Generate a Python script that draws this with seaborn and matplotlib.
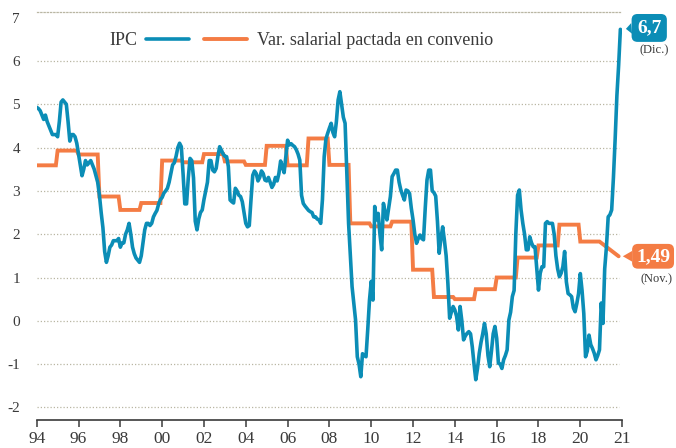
import numpy as np
import pandas as pd
import matplotlib.pyplot as plt
import seaborn as sns

# IPC, variación interanual (%), mensual ene-1994 .. dic-2021
ipc = [
    4.93, 4.90, 4.85, 4.75, 4.65, 4.75, 4.60, 4.50, 4.40, 4.30, 4.30, 4.30,  # 1994
    4.25, 4.60, 5.05, 5.10, 5.05, 5.00, 4.60, 4.15, 4.30, 4.30, 4.25, 4.10,  # 1995
    3.85, 3.60, 3.35, 3.50, 3.70, 3.60, 3.65, 3.70, 3.60, 3.50, 3.35, 3.20,  # 1996
    2.90, 2.50, 2.15, 1.60, 1.35, 1.50, 1.70, 1.75, 1.85, 1.85, 1.85, 1.90,  # 1997
    1.70, 1.80, 1.80, 2.00, 2.10, 2.25, 2.00, 1.70, 1.55, 1.45, 1.40, 1.35,  # 1998
    1.50, 1.80, 2.10, 2.25, 2.25, 2.20, 2.25, 2.40, 2.48, 2.55, 2.70, 2.80,  # 1999
    2.85, 2.95, 3.00, 3.06, 3.20, 3.40, 3.60, 3.65, 3.80, 4.00, 4.10, 4.02,  # 2000
    3.40, 2.70, 2.70, 3.30, 3.75, 3.70, 3.30, 2.30, 2.10, 2.35, 2.50, 2.56,  # 2001
    2.80, 3.00, 3.20, 3.70, 3.70, 3.48, 3.44, 3.52, 3.80, 4.02, 3.94, 3.85,  # 2002
    3.80, 3.79, 3.56, 2.79, 2.75, 2.72, 3.06, 3.00, 2.90, 2.87, 2.75, 2.50,  # 2003
    2.25, 2.17, 2.20, 2.80, 3.36, 3.46, 3.40, 3.23, 3.31, 3.46, 3.40, 3.25,  # 2004
    3.23, 3.31, 3.20, 3.08, 3.15, 3.31, 3.23, 3.40, 3.69, 3.55, 3.42, 3.80,  # 2005
    4.17, 4.06, 4.09, 4.05, 4.02, 3.95, 3.85, 3.71, 2.90, 2.71, 2.65, 2.60,  # 2006
    2.55, 2.52, 2.50, 2.40, 2.40, 2.35, 2.33, 2.25, 2.80, 3.79, 4.20, 4.33,  # 2007
    4.45, 4.56, 4.35, 4.25, 4.60, 5.10, 5.29, 5.00, 4.70, 4.56, 3.40, 2.25,  # 2008
    1.50, 0.79, 0.40, 0.02, -0.83, -1.00, -1.29, -0.76, -0.80, -0.83, -0.20, 0.48,  # 2009
    0.91, 0.48, 2.64, 2.33, 2.48, 2.00, 1.64, 2.71, 2.50, 2.33, 2.60, 2.87,  # 2010
    3.33, 3.40, 3.48, 3.48, 3.20, 3.02, 2.90, 2.79, 3.02, 3.00, 2.94, 2.60,  # 2011
    2.33, 2.00, 1.79, 1.90, 1.98, 1.90, 1.87, 2.60, 3.25, 3.48, 3.48, 3.00,  # 2012
    2.96, 2.88, 2.30, 1.56, 1.90, 2.17, 1.86, 1.50, 0.86, 0.06, 0.20, 0.33,  # 2013
    0.25, 0.10, -0.21, 0.33, 0.00, -0.44, -0.35, -0.29, -0.25, -0.30, -0.60, -1.00,  # 2014
    -1.36, -1.10, -0.75, -0.50, -0.30, -0.06, -0.30, -0.80, -1.06, -0.70, -0.30, -0.13,  # 2015
    -0.40, -0.98, -1.00, -1.10, -0.90, -0.80, -0.67, 0.02, 0.20, 0.56, 0.70, 2.02,  # 2016
    2.90, 3.02, 2.56, 2.25, 2.00, 1.64, 1.64, 1.94, 1.80, 1.71, 1.71, 1.20,  # 2017
    0.71, 1.10, 1.25, 1.25, 2.25, 2.29, 2.25, 2.25, 2.25, 2.00, 1.50, 1.20,  # 2018
    1.02, 1.10, 1.25, 1.60, 0.90, 0.63, 0.60, 0.56, 0.30, 0.21, 0.40, 0.63,  # 2019
    1.09, 0.70, 0.17, -0.83, -0.70, -0.33, -0.55, -0.64, -0.75, -0.90, -0.80, -0.67,  # 2020
    0.41, -0.06, 1.20, 1.71, 2.40, 2.45, 2.56, 3.30, 4.20, 5.20, 5.90, 6.73,  # 2021
]

# Variación salarial pactada en convenio (%), 1994..2020, y dato nov-2021
salario_anual = [3.59, 3.93, 3.84, 2.87, 2.56, 2.72, 3.70, 3.66, 3.85, 3.68,
                 3.60, 4.04, 3.59, 4.21, 3.60, 2.25, 2.18, 2.29, 1.18, 0.55,
                 0.50, 0.73, 1.00, 1.46, 1.74, 2.22, 1.83]
salario_nov21 = 1.49

y_ticks = [-2, -1, 0, 1, 2, 3, 4, 5, 6, 7]
x_ticks = [1994, 1996, 1998, 2000, 2002, 2004, 2006, 2008, 2010, 2012,
           2014, 2016, 2018, 2020, 2022]
x_labels = ['94', '96', '98', '00', '02', '04', '06', '08', '10', '12',
            '14', '16', '18', '20', '21']

meses = pd.date_range('1994-01-01', '2021-12-01', freq='MS')
df_ipc = pd.DataFrame({'x': meses.year + (meses.month - 1) / 12, 'valor': ipc})

meses_sal = pd.date_range('1994-01-01', '2020-12-01', freq='MS')
df_sal = pd.DataFrame({'x': meses_sal.year + (meses_sal.month - 1) / 12,
                       'valor': np.repeat(salario_anual, 12)})
df_sal = pd.concat([df_sal, pd.DataFrame({'x': [2021 + 10 / 12], 'valor': [salario_nov21]})],
                   ignore_index=True)

AZUL = '#0b8db6'
NARANJA = '#f47c44'
GRIS = '#3a3a3a'
REJILLA = '#b9b6a3'

sns.set_style('white')
plt.rcParams['font.family'] = ['Liberation Serif', 'DejaVu Serif']

fig = plt.figure(figsize=(6.76, 4.48), dpi=100)
ax = fig.add_axes([0.0543, 0.0625, 0.866, 0.9107])

sns.lineplot(data=df_sal, x='x', y='valor', ax=ax, color=NARANJA, lw=2.8,
             solid_joinstyle='miter', zorder=3)
sns.lineplot(data=df_ipc, x='x', y='valor', ax=ax, color=AZUL, lw=2.6, zorder=4)
h_sal, h_ipc = ax.lines[0], ax.lines[1]

ax.set_xlim(1994, 2022)
ax.set_ylim(-2.29, 7.13)
ax.set_xlabel('')
ax.set_ylabel('')

for v in y_ticks[:-1]:
    ax.axhline(v, xmin=0, xmax=0.995, color=REJILLA, lw=0.9, ls=(0, (1, 1.6)), zorder=1)

for s in ['left', 'right']:
    ax.spines[s].set_visible(False)
ax.spines['top'].set_color(REJILLA)
ax.spines['top'].set_linestyle((0, (1, 1.6)))
ax.spines['top'].set_linewidth(0.9)
ax.spines['bottom'].set_color(GRIS)
ax.spines['bottom'].set_linewidth(1.2)

ax.set_yticks(y_ticks)
ax.set_yticklabels([str(t) for t in y_ticks])
ax.set_xticks(x_ticks)
ax.set_xticklabels(x_labels)
ax.tick_params(axis='y', length=0, pad=12, labelsize=11, labelcolor=GRIS)
ax.tick_params(axis='x', length=5, width=1.1, color=GRIS, pad=3, labelsize=12.5,
               labelcolor=GRIS, direction='out', bottom=True)

# leyenda: "IPC ───"  y  "─── Var. salarial ..."
leg1 = ax.legend([h_ipc], ['IPC'], loc='center left', bbox_to_anchor=(0.125, 0.93),
                 frameon=False, markerfirst=False, handlelength=2.4, handletextpad=0.45,
                 borderpad=0, borderaxespad=0, fontsize=13, labelcolor=GRIS)
ax.add_artist(leg1)
ax.legend([h_sal], ['Var. salarial pactada en convenio'], loc='center left',
          bbox_to_anchor=(0.286, 0.93), frameon=False, handlelength=2.4,
          handletextpad=0.55, borderpad=0, borderaxespad=0, fontsize=13,
          labelcolor=GRIS)

# etiquetas finales
x_fin_ipc = df_ipc['x'].iloc[-1]
y_fin_ipc = df_ipc['valor'].iloc[-1]
ax.annotate('6,7', xy=(x_fin_ipc, y_fin_ipc), xytext=(12, 1), textcoords='offset points',
            ha='left', va='center', color='white', fontsize=14, fontweight='bold',
            bbox=dict(boxstyle='round,pad=0.28,rounding_size=0.3', fc=AZUL, ec='none'),
            arrowprops=dict(arrowstyle='wedge,tail_width=0.55', fc=AZUL, ec='none',
                            shrinkA=0, shrinkB=4, relpos=(0, 0.5)),
            annotation_clip=False)
ax.annotate('(Dic.)', xy=(x_fin_ipc, y_fin_ipc), xytext=(24.5, -15), textcoords='offset points',
            ha='center', va='center', color=GRIS, fontsize=9, annotation_clip=False)

x_fin_sal = df_sal['x'].iloc[-1]
y_fin_sal = df_sal['valor'].iloc[-1]
ax.annotate('1,49', xy=(x_fin_sal, y_fin_sal), xytext=(12.5, 0), textcoords='offset points',
            ha='left', va='center', color='white', fontsize=14, fontweight='bold',
            bbox=dict(boxstyle='round,pad=0.2,rounding_size=0.3', fc=NARANJA, ec='none'),
            arrowprops=dict(arrowstyle='wedge,tail_width=0.55', fc=NARANJA, ec='none',
                            shrinkA=0, shrinkB=3, relpos=(0, 0.5)),
            annotation_clip=False)
ax.annotate('(Nov.)', xy=(x_fin_sal, y_fin_sal), xytext=(27, -16.5), textcoords='offset points',
            ha='center', va='center', color=GRIS, fontsize=9, annotation_clip=False)

plt.savefig('out.png', dpi=100)
